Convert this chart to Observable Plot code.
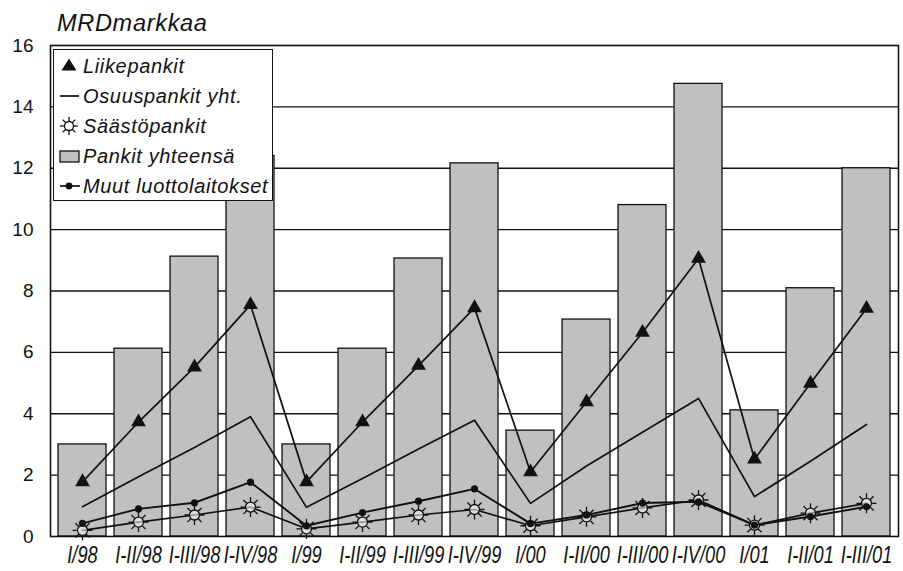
<!DOCTYPE html>
<html>
<head>
<meta charset="utf-8">
<script src="https://cdn.jsdelivr.net/npm/d3@7"></script>
<script src="https://cdn.jsdelivr.net/npm/@observablehq/plot@0.6"></script>
<style>
  body { margin: 0; background: #fff; font-family: "Liberation Sans", Arial, sans-serif; }
  #wrap { position: relative; width: 903px; height: 571px; overflow: hidden; }
  #chart { position: absolute; left: 0; top: 0; }
  #title { position: absolute; left: 57px; top: 12px; font-size: 23.5px; line-height: 23.5px; font-style: italic; letter-spacing: 0.7px; color: #111; }
  #legend { position: absolute; left: 53px; top: 49px; width: 220px; height: 152px; box-sizing: border-box;
            border: 1.5px solid #111; background: #fff; padding-top: 1px; }
  .row { display: flex; align-items: center; height: 30px; }
  .row svg { width: 29px; height: 30px; flex: none; }
  .row span { font-size: 20px; font-style: italic; letter-spacing: 0.65px; color: #111; white-space: nowrap; }
</style>
</head>
<body>
<div id="wrap">
  <div id="chart"></div>
  <div id="title">MRDmarkkaa</div>
  <div id="legend"></div>
</div>
<script>
// ---- data ----
const categories = ["I/98","I-II/98","I-III/98","I-IV/98","I/99","I-II/99","I-III/99","I-IV/99","I/00","I-II/00","I-III/00","I-IV/00","I/01","I-II/01","I-III/01"];
const pankitYhteensa = [3.0, 6.12, 9.12, 12.4, 3.0, 6.12, 9.06, 12.16, 3.45, 7.07, 10.8, 14.75, 4.11, 8.09, 12.0];
const liikepankit = [1.78, 3.73, 5.52, 7.55, 1.78, 3.73, 5.57, 7.45, 2.1, 4.38, 6.65, 9.06, 2.52, 4.99, 7.43];
const osuuspankit = [0.97, 1.95, 2.9, 3.9, 0.95, 1.89, 2.85, 3.79, 1.08, 2.3, 3.4, 4.5, 1.3, 2.45, 3.65];
const saastopankit = [0.2, 0.47, 0.7, 0.96, 0.25, 0.47, 0.7, 0.88, 0.35, 0.64, 0.93, 1.19, 0.37, 0.76, 1.08];
const muutLuottolaitokset = [0.43, 0.9, 1.1, 1.77, 0.35, 0.78, 1.15, 1.55, 0.42, 0.7, 1.09, 1.13, 0.37, 0.65, 0.97];
const yTicks = [0, 2, 4, 6, 8, 10, 12, 14, 16];
const gridLines = [2, 4, 6, 8, 10, 12, 14];
const legendLabels = ["Liikepankit", "Osuuspankit yht.", "Säästöpankit", "Pankit yhteensä", "Muut luottolaitokset"];

const rows = categories.map((cat, i) => ({
  cat,
  pankit: pankitYhteensa[i],
  liike: liikepankit[i],
  osuus: osuuspankit[i],
  saasto: saastopankit[i],
  muut: muutLuottolaitokset[i]
}));

// sun-like marker (circle with rays)
const sun = {
  draw(context, size) {
    const r = Math.sqrt(size / Math.PI);
    const rc = r * 0.5;
    context.moveTo(rc, 0);
    context.arc(0, 0, rc, 0, 2 * Math.PI);
    for (let k = 0; k < 8; k++) {
      const a = k * Math.PI / 4;
      context.moveTo(Math.cos(a) * rc, Math.sin(a) * rc);
      context.lineTo(Math.cos(a) * r, Math.sin(a) * r);
    }
  }
};

const ink = "#111";
const chart = Plot.plot({
  width: 903,
  height: 571,
  marginTop: 45,
  marginBottom: 35,
  marginLeft: 50,
  marginRight: 5,
  style: { fontFamily: "'Liberation Sans', Arial, sans-serif", fontSize: "18px", color: ink, background: "transparent" },
  x: { type: "band", domain: categories, paddingInner: 0.14, paddingOuter: 0.07, align: 0.5, label: null },
  y: { domain: [0, 16], label: null },
  marks: [
    Plot.ruleY(gridLines, { stroke: ink, strokeWidth: 1.4 }),
    Plot.barY(rows, { x: "cat", y: "pankit", fill: "#c0c0c0", stroke: ink, strokeWidth: 1.3 }),
    Plot.frame({ stroke: ink, strokeWidth: 1.6 }),
    Plot.line(rows, { x: "cat", y: "osuus", stroke: ink, strokeWidth: 1.7 }),
    Plot.line(rows, { x: "cat", y: "saasto", stroke: ink, strokeWidth: 1.7 }),
    Plot.dot(rows, { x: "cat", y: "saasto", symbol: sun, r: 10, fill: "#f2f2f2", fillOpacity: 0.6, stroke: ink, strokeWidth: 1.3 }),
    Plot.line(rows, { x: "cat", y: "muut", stroke: ink, strokeWidth: 1.9 }),
    Plot.dot(rows, { x: "cat", y: "muut", r: 3.6, fill: ink, stroke: "none" }),
    Plot.line(rows, { x: "cat", y: "liike", stroke: ink, strokeWidth: 1.7 }),
    Plot.dot(rows, { x: "cat", y: "liike", symbol: "triangle", r: 5.5, fill: ink, stroke: "none" }),
    Plot.axisY(yTicks, { tickSize: 0, tickPadding: 17, fontSize: 19, label: null }),
    Plot.axisX({ tickSize: 0, tickPadding: 9, fontSize: 24, fontStyle: "italic", label: null, ariaLabel: "x-axis" })
  ]
});
// the reference's category labels are tall and narrow: compress them horizontally
d3.select(chart).selectAll('g[aria-label="x-axis tick label"] text').each(function () {
  const t = this.getAttribute("transform") || "";
  this.setAttribute("transform", t + " scale(0.76,1)");
});
document.getElementById("chart").appendChild(chart);

// ---- legend (HTML overlay) ----
const sym = [
  `<path d="M15,7.5 L22.5,19.5 L7.5,19.5 Z" fill="${ink}"/>`,
  `<line x1="6" y1="15" x2="25" y2="15" stroke="${ink}" stroke-width="1.7"/>`,
  `<g stroke="${ink}" stroke-width="1.3" fill="none"><circle cx="15" cy="15" r="4.5"/>` +
    Array.from({length: 8}, (_, k) => { const a = k * Math.PI / 4; return `<line x1="${15 + Math.cos(a) * 4.5}" y1="${15 + Math.sin(a) * 4.5}" x2="${15 + Math.cos(a) * 9}" y2="${15 + Math.sin(a) * 9}"/>`; }).join("") + `</g>`,
  `<rect x="6" y="10" width="19" height="11" fill="#c0c0c0" stroke="${ink}" stroke-width="1.3"/>`,
  `<line x1="6" y1="15" x2="26" y2="15" stroke="${ink}" stroke-width="1.7"/><circle cx="15" cy="15" r="3.4" fill="${ink}"/>`
];
document.getElementById("legend").innerHTML = legendLabels.map((t, i) =>
  `<div class="row"><svg viewBox="0 0 29 30">${sym[i]}</svg><span>${t}</span></div>`).join("");
</script>
</body>
</html>
